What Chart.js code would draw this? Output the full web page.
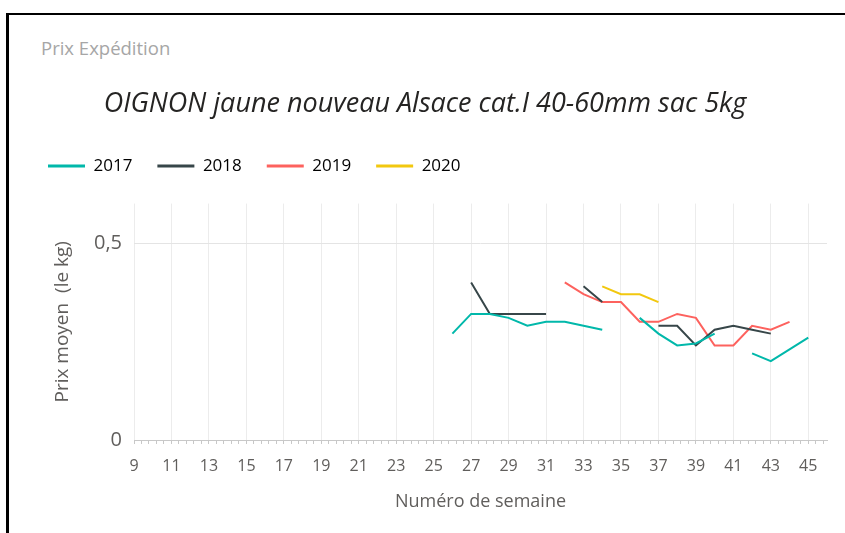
<!DOCTYPE html>
<html>
<head>
<meta charset="utf-8">
<script src="https://cdn.jsdelivr.net/npm/chart.js@4/dist/chart.umd.min.js"></script>
<style>
  html, body { margin: 0; padding: 0; background: #fff; }
  #wrap { position: relative; width: 845px; height: 533px; overflow: hidden; }
  #frame { position: absolute; left: 6px; top: 13px; width: 900px; height: 560px; border-left: 3px solid #000; border-top: 2px solid #000; box-sizing: border-box; }
  #sub { position: absolute; left: 41px; top: 35px; font: 18.5px "Open Sans", sans-serif; color: #a6a6a6; line-height: 25px; }
  canvas { position: absolute; left: 0; top: 0; }
</style>
</head>
<body>
<div id="wrap">
  <div id="frame"></div>
  <div id="sub">Prix Expédition</div>
  <canvas id="c" width="845" height="533"></canvas>
</div>
<script>
const chartTitle = 'OIGNON jaune nouveau Alsace cat.I 40-60mm sac 5kg';
const xTitle = 'Numéro de semaine';
const yTitle = 'Prix moyen  (le kg)';
const weeks = [26, 27, 28, 29, 30, 31, 32, 33, 34, 35, 36, 37, 38, 39, 40, 41, 42, 43, 44, 45];
const s2017 = [0.27, 0.32, 0.32, 0.31, 0.29, 0.30, 0.30, 0.29, 0.28, null, 0.31, 0.27, 0.24, 0.245, 0.27, null, 0.22, 0.20, 0.23, 0.26];
const s2018 = [null, 0.40, 0.32, 0.32, 0.32, 0.32, null, 0.39, 0.35, null, null, 0.29, 0.29, 0.24, 0.28, 0.29, 0.28, 0.27, null, null];
const s2019 = [null, null, null, null, null, null, 0.40, 0.37, 0.35, 0.35, 0.30, 0.30, 0.32, 0.31, 0.24, 0.24, 0.29, 0.28, 0.30, null];
const s2020 = [null, null, null, null, null, null, null, null, 0.39, 0.37, 0.37, 0.35, null, null, null, null, null, null, null, null];
const seriesNames = ['2017', '2018', '2019', '2020'];
const seriesColors = ['#01B8AA', '#374649', '#FD625E', '#F2C80F'];
const xMin = 9, xMax = 46;
const xMinorStep = 0.4;
const yTickValues = [0, 0.5];
const yMax = 0.6;

const allSeries = [s2017, s2018, s2019, s2020];
const datasets = allSeries.map((s, i) => ({
  label: seriesNames[i],
  data: weeks.map((w, k) => ({ x: w, y: s[k] })),
  borderColor: seriesColors[i],
  backgroundColor: seriesColors[i],
  borderWidth: 2,
  pointRadius: 0,
  pointHoverRadius: 0,
  tension: 0,
  spanGaps: false,
  fill: false
}));

const isMajor = v => Math.abs(v - Math.round(v)) < 1e-6 && ((Math.round(v) - xMin) % 2 === 0);

const legendGap = {
  id: 'legendGap',
  afterInit(chart) {
    const lg = chart.legend;
    if (!lg) return;
    const orig = lg.fit;
    lg.fit = function () { orig.call(this); this.height += 19; };
  }
};

new Chart(document.getElementById('c'), {
  type: 'line',
  data: { datasets },
  plugins: [legendGap],
  options: {
    responsive: false,
    animation: false,
    layout: { padding: { left: 23, right: 18, top: 80, bottom: 20 } },
    plugins: {
      title: {
        display: true,
        text: chartTitle,
        color: '#252423',
        font: { family: '"Open Sans", sans-serif', size: 27, style: 'italic', weight: 'normal' },
        padding: { top: 7.8, bottom: 12.4 }
      },
      legend: {
        display: true,
        align: 'start',
        labels: {
          boxWidth: 37,
          boxHeight: 3,
          padding: 25,
          color: '#252423',
          font: { family: '"Open Sans", sans-serif', size: 17 },
          generateLabels(chart) {
            return chart.data.datasets.map((d, i) => ({
              text: d.label, fillStyle: d.borderColor, strokeStyle: d.borderColor,
              lineWidth: 0, datasetIndex: i, hidden: false
            }));
          }
        }
      },
      tooltip: { enabled: false }
    },
    scales: {
      x: {
        type: 'linear',
        min: xMin,
        max: xMax,
        afterBuildTicks(scale) {
          const t = [];
          const n = Math.floor((xMax - xMin) / xMinorStep + 1e-9);
          for (let k = 0; k <= n; k++) t.push({ value: Math.round((xMin + k * xMinorStep) * 10) / 10 });
          scale.ticks = t;
        },
        afterFit(scale) { scale.height = 73; },
        ticks: {
          autoSkip: false,
          maxRotation: 0,
          padding: 13,
          color: '#605E5C',
          font: { family: '"Liberation Sans Narrow", "Open Sans", sans-serif', size: 16 },
          callback(v) { return isMajor(v) ? String(Math.round(v)) : ''; }
        },
        grid: {
          color: ctx => (ctx.tick && isMajor(ctx.tick.value)) ? '#ececec' : 'rgba(0,0,0,0)',
          tickColor: '#c8c8c8',
          tickLength: 4,
          lineWidth: 1
        },
        border: { display: true, color: '#c8c8c8', width: 1 },
        title: {
          display: true,
          text: xTitle,
          color: '#605E5C',
          font: { family: '"Open Sans", sans-serif', size: 18 },
          padding: { top: 0, bottom: 0 }
        }
      },
      y: {
        type: 'linear',
        min: 0,
        max: yMax,
        afterBuildTicks(scale) { scale.ticks = yTickValues.map(v => ({ value: v })); },
        afterFit(scale) { scale.width = 111; },
        ticks: {
          padding: 12,
          color: '#605E5C',
          font: { family: '"Open Sans", sans-serif', size: 20 },
          callback(v) { return String(v).replace('.', ','); }
        },
        grid: {
          color: ctx => (ctx.tick && ctx.tick.value > 0) ? '#e4e4e4' : 'rgba(0,0,0,0)',
          drawTicks: false,
          lineWidth: 1
        },
        border: { display: false },
        title: {
          display: true,
          text: yTitle,
          color: '#605E5C',
          font: { family: '"Open Sans", sans-serif', size: 19 },
          padding: { top: 28, bottom: 0 }
        }
      }
    }
  }
});
</script>
</body>
</html>
